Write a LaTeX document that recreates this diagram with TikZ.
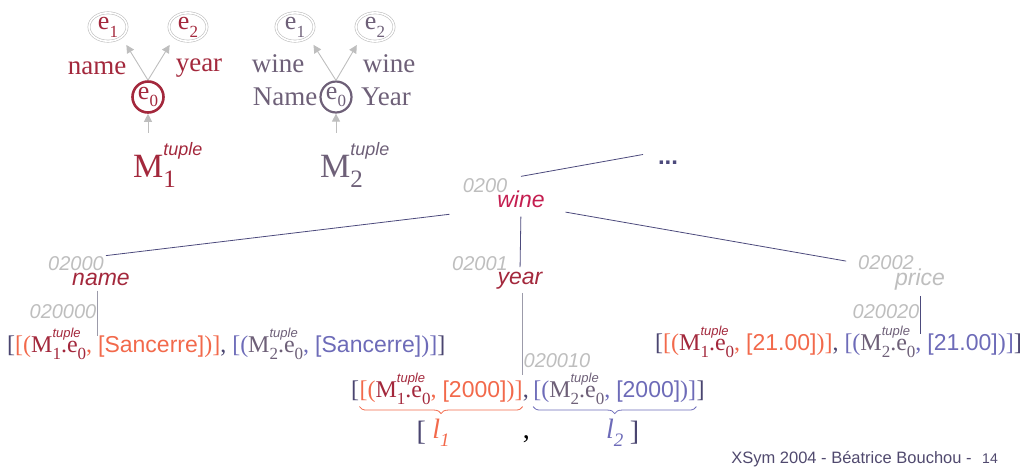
\documentclass[tikz,border=0pt]{standalone}
\usepackage{fontspec}
\setmainfont{Liberation Serif}
\setsansfont{Liberation Sans}
\usepackage{tikz}
\usetikzlibrary{arrows.meta,positioning,shapes.geometric,decorations.pathreplacing}
\definecolor{mOneRed}{HTML}{A3283C}
\definecolor{wineRed}{HTML}{C41E50}
\definecolor{mTwoGray}{HTML}{6E6078}
\definecolor{treeNavy}{HTML}{4C4A7C}
\definecolor{codeGray}{HTML}{BEBEBE}
\definecolor{listOrange}{HTML}{F2694B}
\definecolor{listBlue}{HTML}{6D6BB8}
\definecolor{brackNavy}{HTML}{4A4570}
\definecolor{footNavy}{HTML}{50496E}
\providecommand{\tplsz}{13}
\providecommand{\subsz}{17}
\providecommand{\esub}[1]{e\raisebox{-0.3em}{\fontsize{\subsz}{\subsz}\selectfont #1}}
\providecommand{\Mtup}[1]{M\makebox[0pt][l]{\raisebox{0.62em}{\fontsize{\tplsz}{\tplsz}\sffamily\itshape tuple}}\raisebox{-0.3em}{\fontsize{\subsz}{\subsz}\selectfont #1}}
\providecommand{\sval}[1]{{\fontsize{23}{25}\sffamily #1}}
\providecommand{\lname}[1]{\textit{l}\raisebox{-0.3em}{\fontsize{19}{19}\itshape #1}}

\begin{document}
\begin{tikzpicture}[x=1pt,y=-1pt,
    every node/.style={inner sep=1pt},
    word/.style={font=\fontsize{27}{29}\selectfont},
    enode/.style={ellipse,draw=codeGray,double=white,double distance=1.6pt,
                  line width=0.6pt,minimum width=38pt,minimum height=26pt,inner sep=0pt,
                  font=\fontsize{26}{28}\selectfont\def\subsz{17}},
    rootA/.style={circle,draw=mOneRed,line width=2.6pt,inner sep=0pt,minimum size=31pt,
                  text=mOneRed,font=\fontsize{26}{28}\selectfont\def\subsz{17}},
    rootB/.style={rootA,draw=mTwoGray,text=mTwoGray,line width=2.2pt},
    bigM/.style={anchor=base west,inner sep=0pt,
                 font=\fontsize{34}{36}\selectfont\def\tplsz{18}\def\subsz{25}},
    garr/.style={-{Triangle[length=8pt,width=8pt]},draw=codeGray,line width=0.9pt},
    tag/.style={font=\fontsize{20}{22}\selectfont\sffamily\itshape,text=codeGray},
    elem/.style={font=\fontsize{23}{25}\selectfont\sffamily\itshape},
    edge/.style={draw=treeNavy,line width=0.8pt},
    ledge/.style={draw=codeGray!70!treeNavy,line width=0.8pt},
    row/.style={anchor=base west,inner sep=0pt,
                font=\fontsize{24}{26}\selectfont\def\tplsz{13}\def\subsz{17}},
    lrow/.style={inner sep=0pt,font=\fontsize{28}{30}\selectfont},
    brace/.style={decorate,decoration={brace,mirror,amplitude=7pt,raise=2pt},line width=0.8pt}
  ]
  \useasboundingbox (0,0) rectangle (1024,472);
  % mapping of M1
  \node[enode,text=mOneRed] (aE1) at (108,27) {\esub{1}};
  \node[enode,text=mOneRed] (aE2) at (188,27) {\esub{2}};
  \node[rootA] (aE0) at (148,97) {\esub{0}};
  \node[word,text=mOneRed] (aName) at (97,68) {name};
  \node[word,text=mOneRed] (aYear) at (199,68) {year};
  \node[bigM,text=mOneRed] (aM) at (133,177) {\Mtup{1}};
  \draw[garr,shorten >=9pt] (aE0.north) -- (aE1.south east);
  \draw[garr,shorten >=9pt] (aE0.north) -- (aE2.south west);
  \draw[garr,shorten <=10pt] (aM.north -| aE0.south) -- (aE0.south);
  % mapping of M2
  \node[enode,text=mTwoGray] (bE1) at (295,27) {\esub{1}};
  \node[enode,text=mTwoGray] (bE2) at (375,27) {\esub{2}};
  \node[rootB] (bE0) at (336,97) {\esub{0}};
  \node[word,text=mTwoGray] (bWineA) at (278,64) {wine};
  \node[word,text=mTwoGray] (bName) at (285,97) {Name};
  \node[word,text=mTwoGray] (bWineB) at (389,64) {wine};
  \node[word,text=mTwoGray] (bYear) at (386,97) {Year};
  \node[bigM,text=mTwoGray] (bM) at (320,177) {\Mtup{2}};
  \draw[garr,shorten >=9pt] (bE0.north) -- (bE1.south east);
  \draw[garr,shorten >=9pt] (bE0.north) -- (bE2.south west);
  \draw[garr,shorten <=10pt] (bM.north -| bE0.south) -- (bE0.south);
  % index tree
  \node[elem,text=wineRed] (wine) at (521,199) {wine};
  \node[tag] (c0200) at (485,186) {0200};
  \node[font=\fontsize{24}{26}\selectfont\sffamily\bfseries,text=treeNavy] (more) at (668,163) {...};
  \node[tag] (c02000) at (76,264) {02000};
  \node[elem,text=mOneRed] (name) at (101,279) {name};
  \node[tag] (c02001) at (480,264) {02001};
  \node[elem,text=mOneRed] (year) at (520,281) {year};
  \node[tag] (c02002) at (886,263) {02002};
  \node[elem,text=codeGray] (price) at (920,280) {price};
  \node[tag] (c020000) at (63,312) {020000};
  \node[tag] (c020010) at (557,361) {020010};
  \node[tag] (c020020) at (886,312) {020020};
  \draw[edge,shorten >=14pt] ([yshift=13pt]wine.north) -- ([yshift=11pt]more.west);
  \draw[edge,shorten <=47pt,shorten >=1pt] (wine.south west) -- (c02000.north east);
  \draw[edge,shorten <=8pt,shorten >=4pt] (wine.south) -- (year.north);
  \draw[edge,shorten <=20pt,shorten >=11pt] (wine.south east) -- (c02002.west);
  % value lists
  \node[row] (nameList) at (7,352) {\textcolor{brackNavy}{[}\textcolor{listOrange}{[(}\textcolor{mOneRed}{\Mtup{1}.\esub{0}}\textcolor{listOrange}{, \sval{[Sancerre]})]}\textcolor{brackNavy}{,} \textcolor{listBlue}{[(}\textcolor{mTwoGray}{\Mtup{2}.\esub{0}}\textcolor{listBlue}{, \sval{[Sancerre]})]}\textcolor{brackNavy}{]}};
  \node[row] (priceList) at (655,350) {\textcolor{brackNavy}{[}\textcolor{listOrange}{[(}\textcolor{mOneRed}{\Mtup{1}.\esub{0}}\textcolor{listOrange}{, \sval{[21.00]})]}\textcolor{brackNavy}{,} \textcolor{listBlue}{[(}\textcolor{mTwoGray}{\Mtup{2}.\esub{0}}\textcolor{listBlue}{, \sval{[21.00]})]}\textcolor{brackNavy}{]}};
  \node[row,text=brackNavy] (yOpen) at (351,397) {[};
  \node[row,text=listOrange] (yL1) at (yOpen.base east) {[(\textcolor{mOneRed}{\Mtup{1}.\esub{0}}, \sval{[2000]})]};
  \node[row,text=brackNavy] (yComma) at (yL1.base east) {,};
  \node[row,text=listBlue] (yL2) at ([xshift=4pt]yComma.base east) {[(\textcolor{mTwoGray}{\Mtup{2}.\esub{0}}, \sval{[2000]})]};
  \node[row,text=brackNavy] (yClose) at (yL2.base east) {]};
  \draw[ledge,shorten <=4pt,shorten >=-8pt] (name.south -| c020000.east) -- (nameList.north -| c020000.east);
  \draw[ledge,shorten <=2pt,shorten >=-2pt] (year.south -| c020010.west) -- (yL2.north -| c020010.west);
  \draw[edge,shorten <=4pt,shorten >=-8pt] (price.south -| c020020.east) -- (priceList.north -| c020020.east);
  \draw[brace,draw=listOrange] (yL1.south west) -- (yL1.south east);
  \draw[brace,draw=listBlue] (yL2.south west) -- (yL2.south east);
  \node[lrow,text=listOrange,below=14pt of yL1.south] (lOne) {\lname{1}};
  \node[lrow,text=listBlue,below=14pt of yL2.south] (lTwo) {\lname{2}};
  \node[lrow,text=black] (lComma) at (lOne.base -| yComma.west) [anchor=base west] {,};
  \node[lrow,text=brackNavy,left=6pt of lOne] (lOpen) {[};
  \node[lrow,text=brackNavy,right=6pt of lTwo] (lClose) {]};
  % footer
  \node[anchor=base east,inner sep=0pt,text=footNavy,font=\fontsize{16.5}{18}\sffamily] (foot) at (998,463)
       {XSym 2004 - Béatrice Bouchou - \hspace{6pt}{\fontsize{14}{16}\selectfont 14}};
\end{tikzpicture}
\end{document}
